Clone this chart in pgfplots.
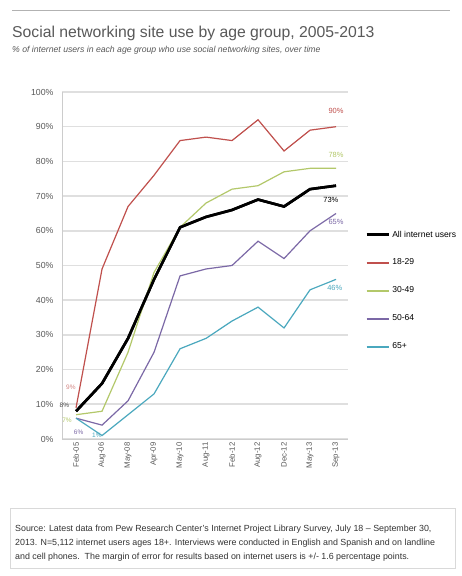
\documentclass[border=0pt]{standalone}
\usepackage{pgfplots}
\pgfplotsset{compat=1.18}
\usepackage{fontspec}
\setmainfont{Liberation Sans}
\definecolor{cA}{HTML}{000000}
\definecolor{cB}{HTML}{C0504D}
\definecolor{cC}{HTML}{B3C86A}
\definecolor{cD}{HTML}{7B68A6}
\definecolor{cE}{HTML}{4AA8BE}
\definecolor{txt}{HTML}{595959}
\begin{document}
\begin{tikzpicture}
\useasboundingbox (0,0) rectangle (462bp,576bp);
\fill[white] (0,0) rectangle (462bp,576bp);
\draw[gray!60, line width=0.8bp] (12bp,566bp) -- (450bp,566bp);
\node[anchor=west, inner sep=0pt, text=txt, font=\fontsize{15.8}{17}\selectfont] at (12bp,543bp) {Social networking site use by age group, 2005-2013};
\node[anchor=west, inner sep=0pt, text=txt, font=\fontsize{8.7}{10}\selectfont\itshape] at (12bp,526bp) {\% of internet users in each age group who use social networking sites, over time};
\begin{axis}[
  at={(62bp,137bp)}, anchor=south west,
  scale only axis, width=286bp, height=347bp,
  xmin=-0.54, xmax=10.46, ymin=0, ymax=100,
  xtick={0,...,10},
  xticklabels={Feb-05,Aug-06,May-08,Apr-09,May-10,Aug-11,Feb-12,Aug-12,Dec-12,May-13,Sep-13},
  x tick label style={rotate=90, anchor=east, font=\fontsize{7.8}{8}\selectfont, text=txt},
  ytick={0,10,...,100},
  yticklabel={\pgfmathprintnumber{\tick}\%},
  /pgf/number format/assume math mode=true,
  y tick label style={font=\fontsize{8.8}{9}\selectfont, text=txt, xshift=-5bp},
  major tick length=0pt,
  axis x line*=bottom, axis y line*=left,
  axis line style={gray!40, line width=0.8bp},
  ymajorgrids, major grid style={draw=gray!25, line width=1.6bp},
  clip=false,
  legend style={at={(1.059,0.612)}, anchor=north west, draw=none, fill=none,
    font=\fontsize{8.6}{9}\selectfont, row sep=16.5bp, text=black, cells={anchor=west},
    inner xsep=0pt},
  legend image code/.code={\draw[#1] plot coordinates {(0bp,0bp) (22bp,0bp)};},
]
\addplot[cA, line width=2.6bp, legend image post style={line width=3.2bp}] coordinates {(0,8) (1,16) (2,29) (3,46) (4,61) (5,64) (6,66) (7,69) (8,67) (9,72) (10,73)};
\addlegendentry{All internet users}
\addplot[cB, line width=1.2bp, legend image post style={line width=2bp}] coordinates {(0,9) (1,49) (2,67) (3,76) (4,86) (5,87) (6,86) (7,92) (8,83) (9,89) (10,90)};
\addlegendentry{18-29}
\addplot[cC, line width=1.2bp, legend image post style={line width=2bp}] coordinates {(0,7) (1,8) (2,25) (3,48) (4,61) (5,68) (6,72) (7,73) (8,77) (9,78) (10,78)};
\addlegendentry{30-49}
\addplot[cD, line width=1.2bp, legend image post style={line width=2bp}] coordinates {(0,6) (1,4) (2,11) (3,25) (4,47) (5,49) (6,50) (7,57) (8,52) (9,60) (10,65)};
\addlegendentry{50-64}
\addplot[cE, line width=1.2bp, legend image post style={line width=2bp}] coordinates {(0,6) (1,1) (2,7) (3,13) (4,26) (5,29) (6,34) (7,38) (8,32) (9,43) (10,46)};
\addlegendentry{65+}
\addplot[cA, line width=2.6bp, forget plot] coordinates {(0,8) (1,16) (2,29) (3,46) (4,61) (5,64) (6,66) (7,69) (8,67) (9,72) (10,73)};
\node[text=cB, font=\fontsize{7.5}{8}\selectfont] at (axis cs:10,94.5) {90\%};
\node[text=cC, font=\fontsize{7.5}{8}\selectfont] at (axis cs:10,82) {78\%};
\node[text=black, font=\fontsize{7.5}{8}\selectfont] at (axis cs:9.8,68.8) {73\%};
\node[text=cD, font=\fontsize{7.5}{8}\selectfont] at (axis cs:10,62.5) {65\%};
\node[text=cE, font=\fontsize{7.5}{8}\selectfont] at (axis cs:9.95,43.5) {46\%};
\node[text=cB!70, font=\fontsize{6.5}{7}\selectfont] at (axis cs:-0.2,15) {9\%};
\node[text=black!70, font=\fontsize{6.5}{7}\selectfont] at (axis cs:-0.45,9.7) {8\%};
\node[text=cC, font=\fontsize{6.5}{7}\selectfont] at (axis cs:-0.35,5.5) {7\%};
\node[text=cD, font=\fontsize{6.5}{7}\selectfont] at (axis cs:0.1,2) {6\%};
\node[text=cE, font=\fontsize{6.5}{7}\selectfont] at (axis cs:0.8,1) {1\%};
\end{axis}
\draw[gray!30, line width=0.6bp] (10bp,8bp) rectangle (455bp,68bp);
\node[anchor=north west, inner sep=0pt, text=black!80, align=left, font=\fontsize{8.9}{14}\selectfont] at (15bp,51bp) {Source: Latest data from Pew Research Center's Internet Project Library Survey, July 18 -- September 30,\\
2013. N=5,112 internet users ages 18+. Interviews were conducted in English and Spanish and on landline\\
and cell phones.\ \ The margin of error for results based on internet users is +/- 1.6 percentage points.};
\end{tikzpicture}
\end{document}
